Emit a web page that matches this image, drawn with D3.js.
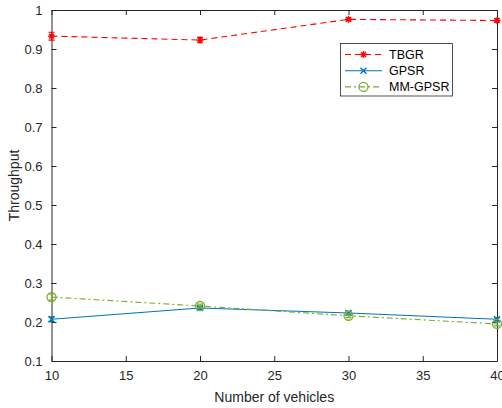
<!DOCTYPE html>
<html><head><meta charset="utf-8">
<script src="https://cdn.jsdelivr.net/npm/d3@7"></script>
<style>body{margin:0;background:#fff}svg{display:block}text{font-family:"Liberation Sans",Arial,sans-serif}</style>
</head><body><svg id="c" width="502" height="408"></svg>
<script>
const vehicles = [10, 20, 30, 40];
const tbgr = [0.933, 0.923, 0.976, 0.973];
const tbgrErr = [0.010, 0.007, 0.004, 0.004];
const gpsr = [0.207, 0.236, 0.223, 0.207];
const gpsrErr = [0.006, 0.004, 0.004, 0.004];
const mmgpsr = [0.264, 0.241, 0.216, 0.195];
const mmErr = [0.008, 0.005, 0.005, 0.005];
const xTicks = [10, 15, 20, 25, 30, 35, 40];
const yTicks = [0.1, 0.2, 0.3, 0.4, 0.5, 0.6, 0.7, 0.8, 0.9, 1];
const seriesNames = ["TBGR", "GPSR", "MM-GPSR"];

const svg = d3.select("#c");
const L = 51.5, R = 497, T = 10, B = 361;
const x = d3.scaleLinear().domain([10, 40]).range([L, R]);
const y = d3.scaleLinear().domain([0.1, 1]).range([B, T]);
const axisColor = "#262626";

const series = [
  {name: seriesNames[0], v: tbgr, e: tbgrErr, color: "#ff0000", dash: "6,4", marker: "star"},
  {name: seriesNames[1], v: gpsr, e: gpsrErr, color: "#0072bd", dash: null, marker: "x"},
  {name: seriesNames[2], v: mmgpsr, e: mmErr, color: "#77ac30", dash: "6,3,2,3", marker: "o"}
];

function drawMarker(g, type, cx, cy, color) {
  if (type === "star") {
    const s = 3.5;
    g.append("path").attr("d", `M${cx-s},${cy}H${cx+s}M${cx},${cy-s}V${cy+s}M${cx-s*0.7},${cy-s*0.7}L${cx+s*0.7},${cy+s*0.7}M${cx-s*0.7},${cy+s*0.7}L${cx+s*0.7},${cy-s*0.7}`)
      .attr("stroke", color).attr("stroke-width", 1.3).attr("fill", "none");
  } else if (type === "x") {
    const s = 3;
    g.append("path").attr("d", `M${cx-s},${cy-s}L${cx+s},${cy+s}M${cx-s},${cy+s}L${cx+s},${cy-s}`)
      .attr("stroke", color).attr("stroke-width", 1.3).attr("fill", "none");
  } else {
    g.append("circle").attr("cx", cx).attr("cy", cy).attr("r", 4.5)
      .attr("stroke", color).attr("stroke-width", 1.3).attr("fill", "none");
  }
}

const xAxisB = d3.axisBottom(x).tickValues(xTicks).tickSizeInner(-5).tickSizeOuter(0).tickPadding(10);
const xAxisT = d3.axisTop(x).tickValues(xTicks).tickSizeInner(-5).tickSizeOuter(0).tickFormat("");
const yAxisL = d3.axisLeft(y).tickValues(yTicks).tickSizeInner(-5).tickSizeOuter(0).tickPadding(9).tickFormat(d => d === 1 ? "1" : d3.format(".1f")(d));
const yAxisR = d3.axisRight(y).tickValues(yTicks).tickSizeInner(-5).tickSizeOuter(0).tickFormat("");

function style(g) {
  g.selectAll("path.domain").attr("stroke", axisColor).attr("stroke-width", 1);
  g.selectAll(".tick line").attr("stroke", axisColor);
  g.selectAll("text").attr("fill", axisColor).style("font-size", "13px").style("font-family", '"Liberation Sans",Arial,sans-serif');
}
svg.append("g").attr("transform", `translate(0,${B})`).call(xAxisB).call(style);
svg.append("g").attr("transform", `translate(0,${T})`).call(xAxisT).call(style);
svg.append("g").attr("transform", `translate(${L},0)`).call(yAxisL).call(style);
svg.append("g").attr("transform", `translate(${R},0)`).call(yAxisR).call(style);

const plot = svg.append("g");
series.forEach(s => {
  const line = d3.line().x((d, i) => x(vehicles[i])).y(d => y(d));
  plot.append("path").datum(s.v).attr("d", line).attr("fill", "none")
    .attr("stroke", s.color).attr("stroke-width", 1.1)
    .attr("stroke-dasharray", s.dash);
  s.v.forEach((v, i) => {
    const cx = x(vehicles[i]);
    const y1 = y(v - s.e[i]), y2 = y(v + s.e[i]);
    plot.append("path").attr("d", `M${cx},${y1}V${y2}M${cx-3},${y1}H${cx+3}M${cx-3},${y2}H${cx+3}`)
      .attr("stroke", s.color).attr("stroke-width", 1.2).attr("fill", "none");
    drawMarker(plot, s.marker, cx, y(v), s.color);
  });
});

const lg = svg.append("g");
lg.append("rect").attr("x", 340.5).attr("y", 43.5).attr("width", 112).attr("height", 52.5)
  .attr("fill", "#fff").attr("stroke", axisColor).attr("stroke-width", 0.8);
series.forEach((s, i) => {
  const yy = 54.5 + i * 16.2;
  lg.append("line").attr("x1", 345).attr("x2", 382).attr("y1", yy).attr("y2", yy)
    .attr("stroke", s.color).attr("stroke-width", 1.1).attr("stroke-dasharray", s.dash);
  drawMarker(lg, s.marker, 363.5, yy, s.color);
  lg.append("text").attr("x", 389).attr("y", yy + 4.5).text(s.name)
    .attr("fill", "#000").style("font-size", "12.5px");
});

svg.append("text").attr("x", (L + R) / 2).attr("y", 402).attr("text-anchor", "middle")
  .attr("fill", axisColor).style("font-size", "14px").text("Number of vehicles");
svg.append("text").attr("transform", `translate(19,${(T + B) / 2}) rotate(-90)`).attr("text-anchor", "middle")
  .attr("fill", axisColor).style("font-size", "14px").text("Throughput");
</script></body></html>
